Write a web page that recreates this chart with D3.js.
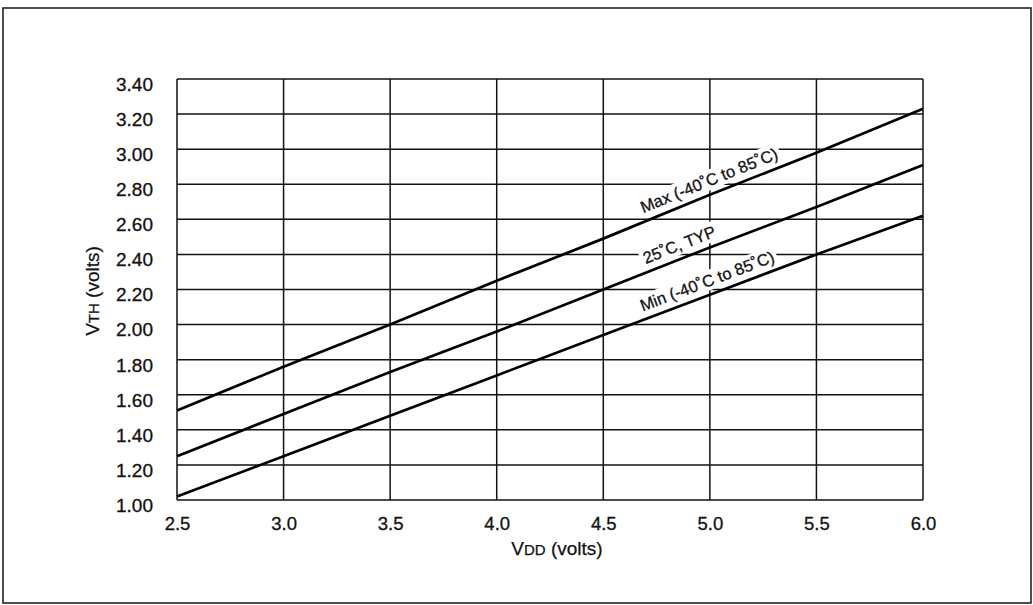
<!DOCTYPE html>
<html><head><meta charset="utf-8">
<script src="https://cdn.jsdelivr.net/npm/d3@7"></script>
<style>body{margin:0;background:#fff}svg{display:block}text{font-family:"Liberation Sans",Arial,sans-serif;fill:#111}</style>
</head><body>
<svg id="c" width="1033" height="605"></svg>
<script>
const vdd = [2.5, 3.0, 3.5, 4.0, 4.5, 5.0, 5.5, 6.0];
const vthMax = [1.51, 1.76, 2.00, 2.25, 2.49, 2.74, 2.98, 3.23];
const vthTyp = [1.25, 1.49, 1.73, 1.96, 2.20, 2.44, 2.67, 2.91];
const vthMin = [1.02, 1.25, 1.48, 1.71, 1.94, 2.17, 2.40, 2.62];
const xTicks = [2.5, 3.0, 3.5, 4.0, 4.5, 5.0, 5.5, 6.0];
const xTickLabels = ["2.5", "3.0", "3.5", "4.0", "4.5", "5.0", "5.5", "6.0"];
const yTicks = [1.0, 1.2, 1.4, 1.6, 1.8, 2.0, 2.2, 2.4, 2.6, 2.8, 3.0, 3.2, 3.4];
const yTickLabels = ["1.00","1.20","1.40","1.60","1.80","2.00","2.20","2.40","2.60","2.80","3.00","3.20","3.40"];
const seriesNames = ["Max (-40˚C to 85˚C)", "25˚C, TYP", "Min (-40˚C to 85˚C)"];
const labelAt = [5.02, 4.88, 5.01];

const svg = d3.select("#c");
const L = 177, R = 923, T = 79, B = 500;
const x = d3.scaleLinear().domain([2.5, 6.0]).range([L, R]);
const y = d3.scaleLinear().domain([1.0, 3.4]).range([B, T]);

// outer frame
svg.append("rect").attr("x", 3).attr("y", 8).attr("width", 1028).attr("height", 595)
  .attr("fill", "none").attr("stroke", "#222").attr("stroke-width", 1.6);

// grid
const g = svg.append("g");
g.selectAll("line.h").data(yTicks).join("line")
  .attr("x1", L).attr("x2", R).attr("y1", d => y(d)).attr("y2", d => y(d))
  .attr("stroke", "#111").attr("stroke-width", 1.5);
g.selectAll("line.v").data(xTicks).join("line")
  .attr("y1", T).attr("y2", B).attr("x1", d => x(d)).attr("x2", d => x(d))
  .attr("stroke", "#111").attr("stroke-width", 1.5);

// axes labels via d3 axes
const xAxis = d3.axisBottom(x).tickValues(xTicks).tickFormat((d, i) => xTickLabels[i]).tickSize(0).tickPadding(17);
const xa = svg.append("g").attr("transform", `translate(0,${B})`).call(xAxis);
xa.select(".domain").remove();
xa.selectAll("text").attr("font-size", 18.5).attr("fill", "#111").attr("stroke", "#111").attr("stroke-width", 0.3)
  .attr("font-family", "Liberation Sans, Arial, sans-serif");

const yAxis = d3.axisLeft(y).tickValues(yTicks).tickFormat((d, i) => yTickLabels[i]).tickSize(0).tickPadding(24);
const ya = svg.append("g").attr("transform", `translate(${L},0)`).call(yAxis);
ya.select(".domain").remove();
ya.selectAll("text").attr("font-size", 19).attr("fill", "#111").attr("stroke", "#111").attr("stroke-width", 0.3)
  .attr("dy", "0.6em").attr("font-family", "Liberation Sans, Arial, sans-serif");

// series labels (with white background cutting the grid)
const series = [vthMax, vthTyp, vthMin];
series.forEach((s, k) => {
  const xv = labelAt[k];
  const yv = d3.scaleLinear().domain(vdd).range(s)(xv);
  const px = x(xv), py = y(yv);
  const ang = Math.atan2(y(s[s.length-1]) - y(s[0]), x(vdd[vdd.length-1]) - x(vdd[0])) * 180 / Math.PI;
  const lg = svg.append("g").attr("transform", `translate(${px},${py}) rotate(${ang})`);
  const bg = lg.append("rect").attr("fill", "#fff");
  const t = lg.append("text").attr("text-anchor", "middle").attr("dy", -8).attr("font-size", 16.5)
    .attr("stroke", "#111").attr("stroke-width", 0.3)
    .text(seriesNames[k]);
  const bb = t.node().getBBox();
  bg.attr("x", bb.x - 3).attr("y", bb.y - 1).attr("width", bb.width + 6).attr("height", bb.height + 2);
});

// series lines
const line = d3.line().x((d, i) => x(vdd[i])).y(d => y(d));
svg.selectAll("path.s").data(series).join("path")
  .attr("d", d => line(d)).attr("fill", "none").attr("stroke", "#000").attr("stroke-width", 2.7);

// axis titles
const xt = svg.append("text").attr("x", 557).attr("y", 555).attr("text-anchor", "middle").attr("font-size", 19)
  .attr("stroke", "#111").attr("stroke-width", 0.25);
xt.append("tspan").text("V");
xt.append("tspan").attr("font-size", 15).text("DD");
xt.append("tspan").text(" (volts)");
const yt = svg.append("text").attr("transform", "translate(99,291) rotate(-90)").attr("text-anchor", "middle").attr("font-size", 19)
  .attr("stroke", "#111").attr("stroke-width", 0.25);
yt.append("tspan").text("V");
yt.append("tspan").attr("font-size", 15).text("TH");
yt.append("tspan").text(" (volts)");
</script>
</body></html>
